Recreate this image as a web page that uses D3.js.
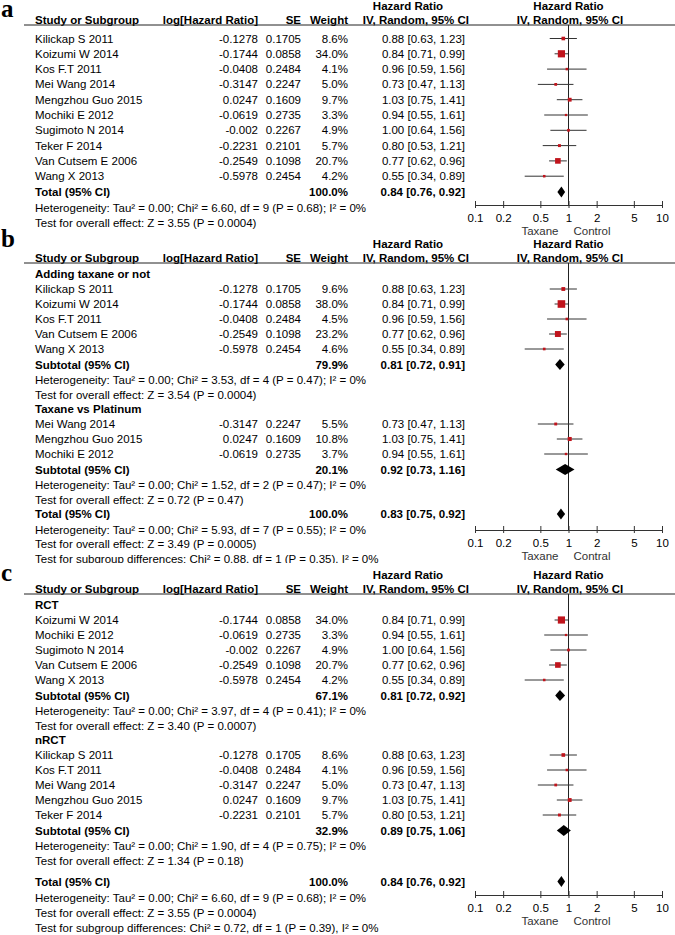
<!DOCTYPE html>
<html>
<head>
<meta charset="utf-8">
<script src="https://cdn.jsdelivr.net/npm/d3@7"></script>
<style>
  body { margin: 0; background: #fff; }
  text { font-family: "Liberation Sans", Arial, sans-serif; font-size: 11.5px; fill: #000; }
</style>
</head>
<body>
<svg></svg>
<script>
const width = 675;
const height = 935;

// studies (shared by all three panels)
const studyNames = ["Kilickap S 2011", "Koizumi W 2014", "Kos F.T 2011", "Mei Wang 2014", "Mengzhou Guo 2015",
  "Mochiki E 2012", "Sugimoto N 2014", "Teker F 2014", "Van Cutsem E 2006", "Wang X 2013"];
const logHR = ["-0.1278", "-0.1744", "-0.0408", "-0.3147", "0.0247", "-0.0619", "-0.002", "-0.2231", "-0.2549", "-0.5978"];
const seVals = ["0.1705", "0.0858", "0.2484", "0.2247", "0.1609", "0.2735", "0.2267", "0.2101", "0.1098", "0.2454"];
const hrVals = [0.88, 0.84, 0.96, 0.73, 1.03, 0.94, 1.00, 0.80, 0.77, 0.55];
const ciLow = [0.63, 0.71, 0.59, 0.47, 0.75, 0.55, 0.64, 0.53, 0.62, 0.34];
const ciHigh = [1.23, 0.99, 1.56, 1.13, 1.41, 1.61, 1.56, 1.21, 0.96, 0.89];

const tickValues = [0.1, 0.2, 0.5, 1, 2, 5, 10];

// panel a : all studies
const studiesA = [0, 1, 2, 3, 4, 5, 6, 7, 8, 9];
const weightsA = [8.6, 34.0, 4.1, 5.0, 9.7, 3.3, 4.9, 5.7, 20.7, 4.2];
const totalA = [0.84, 0.76, 0.92];
const totalTextA = ["Heterogeneity: Tau² = 0.00; Chi² = 6.60, df = 9 (P = 0.68); I² = 0%",
  "Test for overall effect: Z = 3.55 (P = 0.0004)"];

// panel b : adding taxane vs taxane vs platinum
const groupNamesB = ["Adding taxane or not", "Taxane vs Platinum"];
const groupStudiesB = [[0, 1, 2, 8, 9], [3, 4, 5]];
const groupWeightsB = [[9.6, 38.0, 4.5, 23.2, 4.6], [5.5, 10.8, 3.7]];
const subWeightsB = [79.9, 20.1];
const subHrB = [[0.81, 0.72, 0.91], [0.92, 0.73, 1.16]];
const subTextB = [
  ["Heterogeneity: Tau² = 0.00; Chi² = 3.53, df = 4 (P = 0.47); I² = 0%", "Test for overall effect: Z = 3.54 (P = 0.0004)"],
  ["Heterogeneity: Tau² = 0.00; Chi² = 1.52, df = 2 (P = 0.47); I² = 0%", "Test for overall effect: Z = 0.72 (P = 0.47)"]];
const totalB = [0.83, 0.75, 0.92];
const totalTextB = ["Heterogeneity: Tau² = 0.00; Chi² = 5.93, df = 7 (P = 0.55); I² = 0%",
  "Test for overall effect: Z = 3.49 (P = 0.0005)",
  "Test for subgroup differences: Chi² = 0.88, df = 1 (P = 0.35), I² = 0%"];

// panel c : RCT vs nRCT
const groupNamesC = ["RCT", "nRCT"];
const groupStudiesC = [[1, 5, 6, 8, 9], [0, 2, 3, 4, 7]];
const groupWeightsC = [[34.0, 3.3, 4.9, 20.7, 4.2], [8.6, 4.1, 5.0, 9.7, 5.7]];
const subWeightsC = [67.1, 32.9];
const subHrC = [[0.81, 0.72, 0.92], [0.89, 0.75, 1.06]];
const subTextC = [
  ["Heterogeneity: Tau² = 0.00; Chi² = 3.97, df = 4 (P = 0.41); I² = 0%", "Test for overall effect: Z = 3.40 (P = 0.0007)"],
  ["Heterogeneity: Tau² = 0.00; Chi² = 1.90, df = 4 (P = 0.75); I² = 0%", "Test for overall effect: Z = 1.34 (P = 0.18)"]];
const totalC = [0.84, 0.76, 0.92];
const totalTextC = ["Heterogeneity: Tau² = 0.00; Chi² = 6.60, df = 9 (P = 0.68); I² = 0%",
  "Test for overall effect: Z = 3.55 (P = 0.0004)",
  "Test for subgroup differences: Chi² = 0.72, df = 1 (P = 0.39), I² = 0%"];

const svg = d3.select("svg").attr("width", width).attr("height", height);

const x = d3.scaleLog().domain([0.1, 10]).range([475, 662]);
const boxSize = d3.scaleSqrt().domain([0, 38]).range([0, 7.6]);

const col = { study: 35, logHR: 258, se: 301, weight: 348, hr: 465 };
const fmt = d3.format(".2f");
const hrText = v => `${fmt(v[0])} [${fmt(v[1])}, ${fmt(v[2])}]`;

function buildRows(p) {
  const rows = [];
  p.groups.forEach((g, gi) => {
    if (g.name) rows.push({ type: "group", text: g.name, step: gi === 0 ? p.first : 14.5 });
    g.studies.forEach((si, k) => rows.push({
      type: "study", si, w: g.weights[k], step: (k === 0 && !g.name) ? p.first : 15 }));
    if (g.subW !== undefined) {
      rows.push({ type: "sum", label: "Subtotal (95% CI)", w: g.subW, hr: g.subHr, step: 15.5 });
      rows.push({ type: "note", text: g.notes[0], step: 15.5 });
      rows.push({ type: "note", text: g.notes[1], step: 14.5 });
    }
  });
  rows.push({ type: "sum", label: "Total (95% CI)", w: 100.0, hr: p.total, total: true,
    step: p.groups.length > 1 ? p.totalGap : 15.5 });
  p.totalNotes.forEach((t, i) => rows.push({ type: "note", text: t, step: p.noteSteps[i] }));
  let y = p.top + 14;
  rows.forEach((r, i) => { y += i === 0 ? r.step : r.step * p.sc; r.y = y; });
  return rows;
}

function drawPanel(p, idx) {
  const clipId = "clip" + idx;
  svg.append("clipPath").attr("id", clipId)
    .append("rect").attr("x", 0).attr("y", p.clipTop).attr("width", width).attr("height", p.clipBottom - p.clipTop);
  const g = svg.append("g").attr("clip-path", `url(#${clipId})`);
  g.append("rect").attr("x", 0).attr("y", p.clipTop).attr("width", width)
    .attr("height", p.clipBottom - p.clipTop).attr("fill", "#fff");

  const rows = buildRows(p);
  const base = 4; // center -> baseline
  const h1 = p.top + base, h2 = p.top + 14 + base;

  // headers
  const hdr = (xx, yy, t, anchor) => g.append("text").attr("x", xx).attr("y", yy)
    .attr("text-anchor", anchor).style("font-weight", "bold").text(t);
  hdr(408, h1, "Hazard Ratio", "middle");
  hdr(x(1), h1, "Hazard Ratio", "middle");
  hdr(col.study, h2, "Study or Subgroup", "start");
  hdr(col.logHR, h2, "log[Hazard Ratio]", "end");
  hdr(col.se, h2, "SE", "end");
  hdr(col.weight, h2, "Weight", "end");
  hdr(469, h2, "IV, Random, 95% CI", "end");
  hdr(x(1) + 1.5, h2, "IV, Random, 95% CI", "middle");
  g.append("line").attr("x1", 24).attr("x2", width).attr("y1", h2 + 1).attr("y2", h2 + 1)
    .attr("stroke", "#222").attr("stroke-width", 1);

  const totalRow = rows.find(r => r.total);
  const axisY = totalRow.y + p.axisGap;

  // line of no effect
  g.append("line").attr("x1", x(1)).attr("x2", x(1)).attr("y1", h2 + 1).attr("y2", axisY)
    .attr("stroke", "#222").attr("stroke-width", 1);

  rows.forEach(r => {
    const ty = r.y + base;
    if (r.type === "group") {
      g.append("text").attr("x", col.study).attr("y", ty).style("font-weight", "bold").text(r.text);
    } else if (r.type === "note") {
      g.append("text").attr("x", col.study).attr("y", ty).text(r.text);
    } else if (r.type === "study") {
      const si = r.si;
      g.append("text").attr("x", col.study).attr("y", ty).text(studyNames[si]);
      g.append("text").attr("x", col.logHR).attr("y", ty).attr("text-anchor", "end").text(logHR[si]);
      g.append("text").attr("x", col.se).attr("y", ty).attr("text-anchor", "end").text(seVals[si]);
      g.append("text").attr("x", col.weight).attr("y", ty).attr("text-anchor", "end").text(d3.format(".1f")(r.w) + "%");
      g.append("text").attr("x", col.hr).attr("y", ty).attr("text-anchor", "end")
        .text(hrText([hrVals[si], ciLow[si], ciHigh[si]]));
      g.append("line").attr("x1", x(ciLow[si])).attr("x2", x(ciHigh[si])).attr("y1", r.y).attr("y2", r.y)
        .attr("stroke", "#333").attr("stroke-width", 1);
      const s = Math.max(2.2, boxSize(r.w));
      g.append("rect").attr("x", x(hrVals[si]) - s / 2).attr("y", r.y - s / 2)
        .attr("width", s).attr("height", s).attr("fill", "#c0141c");
    } else if (r.type === "sum") {
      g.append("text").attr("x", col.study).attr("y", ty).style("font-weight", "bold").text(r.label);
      g.append("text").attr("x", col.weight).attr("y", ty).attr("text-anchor", "end")
        .style("font-weight", "bold").text(d3.format(".1f")(r.w) + "%");
      g.append("text").attr("x", col.hr).attr("y", ty).attr("text-anchor", "end")
        .style("font-weight", "bold").text(hrText(r.hr));
      const hh = 5.5;
      g.append("path")
        .attr("d", `M${x(r.hr[1])},${r.y}L${x(r.hr[0])},${r.y - hh}L${x(r.hr[2])},${r.y}L${x(r.hr[0])},${r.y + hh}Z`)
        .attr("fill", "#000");
    }
  });

  // axis
  const axis = d3.axisBottom(x).tickValues(tickValues).tickFormat(d => String(d))
    .tickSizeInner(3).tickSizeOuter(0).tickPadding(6);
  const ax = g.append("g").attr("transform", `translate(0,${axisY})`).call(axis);
  ax.select(".domain").attr("stroke", "#333");
  ax.selectAll(".tick line").attr("stroke", "#333").attr("y1", -4).attr("y2", 3);
  ax.selectAll(".tick text").style("font-family", "'Liberation Sans', Arial, sans-serif")
    .style("font-size", "11.5px").attr("fill", "#000");

  g.append("text").attr("x", x(1) - 10).attr("y", axisY + 30).attr("text-anchor", "end")
    .style("fill", "#333").text("Taxane");
  g.append("text").attr("x", x(1) + 5).attr("y", axisY + 30).attr("text-anchor", "start")
    .style("fill", "#333").text(p.rightLabel);

  // panel letter
  svg.append("text").attr("x", 1).attr("y", p.letterY)
    .style("font-family", "'Liberation Serif', 'Times New Roman', serif")
    .style("font-size", "25px").style("font-weight", "bold").text(p.letter);
}

const panels = [
  { letter: "a", letterY: 17, top: 6, first: 18.5, sc: 1.02, axisGap: 13, totalGap: 15.5, noteSteps: [15.5, 14.5],
    clipTop: 0, clipBottom: 236, rightLabel: "Control",
    groups: [{ studies: studiesA, weights: weightsA }],
    total: totalA, totalNotes: totalTextA },
  { letter: "b", letterY: 247, top: 244, first: 16, sc: 1.0, axisGap: 16, totalGap: 14.5, noteSteps: [15.5, 14.5, 14.5],
    clipTop: 236, clipBottom: 563, rightLabel: "Contral",
    groups: groupNamesB.map((n, i) => ({ name: n, studies: groupStudiesB[i], weights: groupWeightsB[i],
      subW: subWeightsB[i], subHr: subHrB[i], notes: subTextB[i] })),
    total: totalB, totalNotes: totalTextB },
  { letter: "c", letterY: 581, top: 575, first: 16, sc: 1.0, axisGap: 13.5, totalGap: 21, noteSteps: [16.5, 15, 15],
    clipTop: 563, clipBottom: 935, rightLabel: "Control",
    groups: groupNamesC.map((n, i) => ({ name: n, studies: groupStudiesC[i], weights: groupWeightsC[i],
      subW: subWeightsC[i], subHr: subHrC[i], notes: subTextC[i] })),
    total: totalC, totalNotes: totalTextC }
];

panels.forEach(drawPanel);
</script>
</body>
</html>
